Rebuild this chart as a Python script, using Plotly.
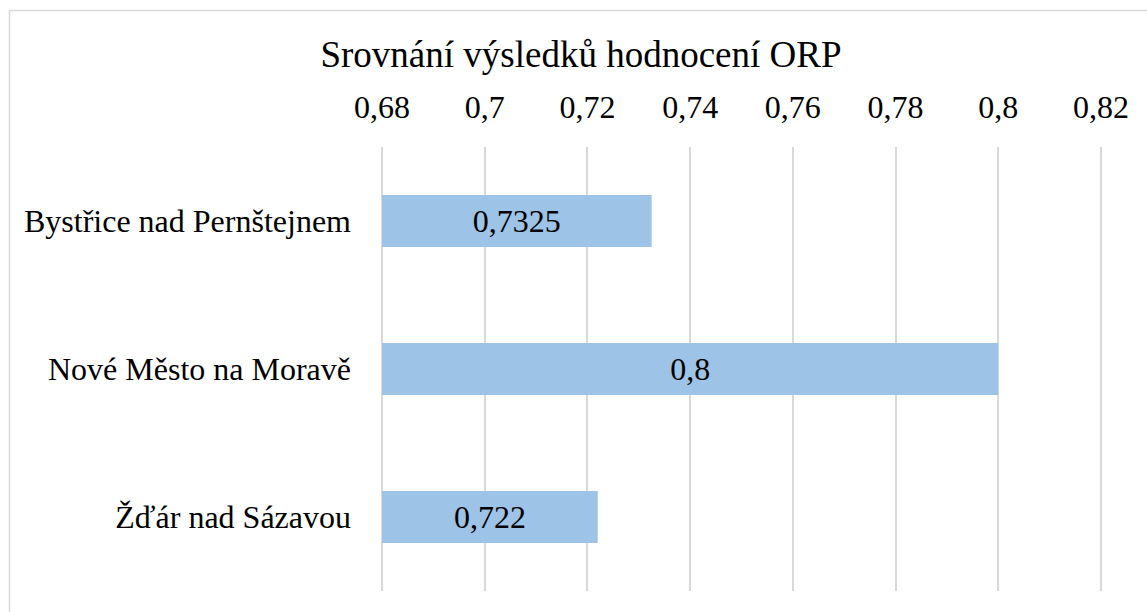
import plotly.graph_objects as go

categories = ["Bystřice nad Pernštejnem", "Nové Město na Moravě", "Žďár nad Sázavou"]
values = [0.7325, 0.8, 0.722]
value_labels = ["0,7325", "0,8", "0,722"]
axis_min = 0.68
tick_vals = [0.68, 0.70, 0.72, 0.74, 0.76, 0.78, 0.80, 0.82]
tick_text = ["0,68", "0,7", "0,72", "0,74", "0,76", "0,78", "0,8", "0,82"]
title_text = "Srovnání výsledků hodnocení ORP"

FONT = "Liberation Serif, Times New Roman, serif"

fig = go.Figure(go.Bar(
    y=categories,
    x=[v - axis_min for v in values],
    base=axis_min,
    orientation="h",
    marker=dict(color="#9DC3E6", line=dict(width=0)),
    text=value_labels,
    textposition="inside",
    insidetextanchor="middle",
    textfont=dict(family=FONT, size=32, color="#000000"),
    hoverinfo="skip",
))

W, H = 1147, 612
L, R, T, B = 380, 44, 147, 21
pw, ph = W - L - R, H - T - B

def px_x(p):
    return (p - L) / pw

def px_y(p):
    return (H - B - p) / ph

fig.update_layout(
    width=W, height=H,
    margin=dict(l=L, r=R, t=T, b=B, pad=0, autoexpand=False),
    paper_bgcolor="white", plot_bgcolor="white",
    separators=", ",
    bargap=0.65,
    showlegend=False,
    font=dict(family=FONT, size=32, color="#000000"),
    title=dict(text=title_text, x=581 / W, xanchor="center",
               y=1 - 54 / H, yanchor="middle", yref="container",
               font=dict(family=FONT, size=37, color="#000000")),
    xaxis=dict(
        side="top", range=[0.6796, 0.8204], tickvals=tick_vals, ticktext=tick_text,
        showgrid=True, gridcolor="#d9d9d9", gridwidth=1.5,
        zeroline=False, showline=False, ticks="",
        ticklabelstandoff=22, automargin=False,
        tickfont=dict(family=FONT, size=32, color="#000000"),
        fixedrange=True,
    ),
    yaxis=dict(
        autorange="reversed", showgrid=False, zeroline=False, showline=False,
        ticks="", ticklabelstandoff=28, automargin=False,
        tickfont=dict(family=FONT, size=32, color="#000000"),
        fixedrange=True,
    ),
    shapes=[dict(
        type="rect", xref="paper", yref="paper",
        x0=px_x(9.5), x1=px_x(1160), y0=px_y(625), y1=px_y(10.5),
        line=dict(color="#d9d9d9", width=1.5), fillcolor="rgba(0,0,0,0)",
        layer="below",
    )],
)

fig.write_html("out.html", config={"displayModeBar": False},
               post_script="document.body.style.margin='0';")
